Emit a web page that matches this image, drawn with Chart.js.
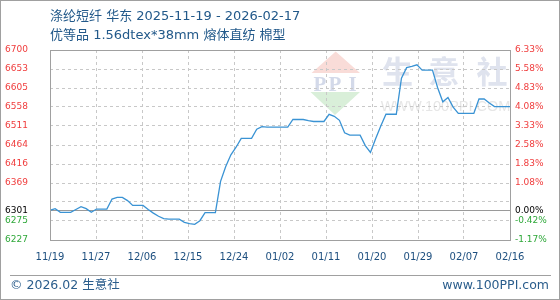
<!DOCTYPE html>
<html>
<head>
<meta charset="utf-8">
<script src="https://cdn.jsdelivr.net/npm/chart.js@4/dist/chart.umd.min.js"></script>
<style>
html,body{margin:0;padding:0;background:#fff;}
#wrap{position:relative;width:560px;height:300px;overflow:hidden;font-family:"DejaVu Sans","Noto Sans CJK SC",sans-serif;background:#fff;}
#c{position:absolute;left:0;top:0;}
.t{position:absolute;left:50px;font-size:13px;color:#22598a;white-space:nowrap;line-height:19px;}
.f{position:absolute;font-size:12.5px;color:#2a5d8c;white-space:nowrap;line-height:16px;top:277px;}
#sep{position:absolute;left:10px;top:275px;width:541px;height:1px;background:#a0a0a0;}
#border{position:absolute;left:0;top:0;width:560px;height:300px;box-sizing:border-box;border:1px solid #a0a0a0;pointer-events:none;}
</style>
</head>
<body>
<div id="wrap">
  <canvas id="c" width="560" height="300"></canvas>
  <div class="t" style="top:5.5px">涤纶短纤 华东 2025-11-19 - 2026-02-17</div>
  <div class="t" style="top:25px">优等品 1.56dtex*38mm 熔体直纺 棉型</div>
  <div id="sep"></div>
  <div class="f" style="left:10px">© 2026.02 生意社</div>
  <div class="f" style="right:11px">www.100PPI.com</div>
  <div id="border"></div>
</div>
<script>
// Daily prices, 2025-11-19 .. 2026-02-16 (元/吨)
const prices = [
  6301, 6305, 6296, 6296, 6296, 6303, 6310, 6305, 6296, 6304,
  6304, 6304, 6329, 6333, 6333, 6325, 6313, 6313, 6313, 6303,
  6294, 6286, 6280, 6279, 6279, 6279, 6271, 6268, 6266, 6275,
  6295, 6295, 6295, 6373, 6410, 6439, 6458, 6480, 6480, 6480,
  6503, 6509, 6508, 6508, 6508, 6508, 6508, 6527, 6527, 6527,
  6524, 6522, 6522, 6522, 6540, 6535, 6525, 6494, 6488, 6488,
  6488, 6462, 6445, 6479, 6511, 6540, 6540, 6540, 6630, 6656,
  6659, 6663, 6650, 6650, 6650, 6606, 6571, 6582, 6558, 6542,
  6542, 6542, 6542, 6578, 6578, 6568, 6559, 6559, 6559, 6559
];
const xTickLabels = ['11/19','11/27','12/06','12/15','12/24','01/02','01/11','01/20','01/29','02/07','02/16'];
const yMin = 6227, yMax = 6700;
const yTickValues = [6227, 6274.3, 6301, 6321.6, 6368.9, 6416.2, 6463.5, 6510.8, 6558.1, 6605.4, 6652.7, 6700];
const leftTickLabels = ['6227','6275','6301','','6369','6416','6464','6511','6558','6605','6653','6700'];
const rightTickLabels = ['-1.17%','-0.42%','0.00%','','1.08%','1.83%','2.58%','3.33%','4.08%','4.83%','5.58%','6.33%'];

const base = prices[0];
const RED = '#f03c3c', GREEN = '#2fa83a', BLACK = '#000000';
function tickColor(c){
  const v = c.tick ? c.tick.value : 0;
  if (Math.abs(v - base) < 0.01) return BLACK;
  return v > base ? RED : GREEN;
}

const watermark = {
  id:'watermark',
  beforeDraw(chart){
    const g = chart.ctx;
    g.save();
    // red triangle
    g.fillStyle = '#f9dcd8';
    g.beginPath(); g.moveTo(311.5,73); g.lineTo(360,73); g.lineTo(335.7,51.5); g.closePath(); g.fill();
    // green triangle
    g.fillStyle = '#d9efd9';
    g.beginPath(); g.moveTo(310.5,92); g.lineTo(360,92); g.lineTo(335,115); g.closePath(); g.fill();
    // PPI letters
    g.fillStyle = '#d3d9e9';
    g.font = 'bold 21px "Liberation Serif"';
    g.textAlign = 'center'; g.textBaseline = 'alphabetic';
    g.fillText('P', 320, 90.5); g.fillText('P', 335, 90.5); g.fillText('I', 352.5, 90.5);
    // 生意社
    g.fillStyle = '#dfe3ee';
    g.font = 'bold 31px "Noto Sans CJK SC"';
    g.textBaseline = 'middle';
    g.fillText('生', 397.5, 71); g.fillText('意', 444, 71); g.fillText('社', 492, 71);
    // url
    g.fillStyle = '#e6e6e6';
    g.font = '14.5px "Liberation Sans"';
    g.fillText('WWW.100PPI.COM', 445.5, 107);
    g.restore();
  }
};

const frame = {
  id:'frame',
  beforeDatasetsDraw(chart){
    const a = chart.chartArea, g = chart.ctx;
    const yb = Math.round(chart.scales.y.getPixelForValue(base)) + 0.5;
    g.save();
    g.strokeStyle = '#9a9a9a'; g.lineWidth = 1;
    g.beginPath(); g.moveTo(a.left, yb); g.lineTo(a.right, yb); g.stroke();
    g.restore();
  },
  afterDatasetsDraw(chart){
    const a = chart.chartArea, g = chart.ctx;
    g.save();
    g.strokeStyle = '#a0a0a0'; g.lineWidth = 1;
    g.strokeRect(Math.round(a.left)+0.5, Math.round(a.top)+0.5, Math.round(a.right-a.left), Math.round(a.bottom-a.top));
    g.restore();
  }
};

function setYTicks(s){ s.ticks = yTickValues.map(v => ({value: v})); }

new Chart(document.getElementById('c'), {
  type:'line',
  data:{
    datasets:[{
      data: prices.map((v,i) => ({x:i, y:v})),
      borderColor:'#3a93d4', borderWidth:1.3, pointRadius:0, tension:0, fill:false
    }]
  },
  options:{
    responsive:false, animation:false, devicePixelRatio:1,
    layout:{padding:{top:50, left:0, right:0, bottom:0}},
    plugins:{legend:{display:false}, tooltip:{enabled:false}, title:{display:false}},
    scales:{
      x:{
        type:'linear', min:0, max:prices.length-1,
        afterBuildTicks: s => { s.ticks = xTickLabels.map((l,k) => ({value: k*(prices.length-1)/(xTickLabels.length-1)})); },
        afterFit: s => { s.height = 60; },
        grid:{color:'#c8c8c8', drawTicks:false, lineWidth:1},
        border:{display:false, dash:[3,3]},
        ticks:{autoSkip:false, maxRotation:0, padding:11, color:'#1d4f7f',
               font:{family:'DejaVu Sans', size:10}, callback:(v,i) => xTickLabels[i]}
      },
      y:{
        position:'left', min:yMin, max:yMax,
        afterBuildTicks: setYTicks,
        afterFit: s => { s.width = 50; },
        grid:{color: c => (c.tick && Math.abs(c.tick.value-base)<0.01) ? 'rgba(0,0,0,0)' : '#c8c8c8', drawTicks:false, lineWidth:1},
        border:{display:false, dash:[3,3]},
        ticks:{autoSkip:false, padding:22, color: tickColor,
               font:{family:'DejaVu Sans', size:9}, callback:(v,i) => leftTickLabels[i]}
      },
      y2:{
        position:'right', min:yMin, max:yMax,
        afterBuildTicks: setYTicks,
        afterFit: s => { s.width = 50; },
        grid:{drawOnChartArea:false, drawTicks:false},
        border:{display:false},
        ticks:{autoSkip:false, padding:5, color: tickColor,
               font:{family:'DejaVu Sans', size:9}, callback:(v,i) => rightTickLabels[i]}
      }
    }
  },
  plugins:[watermark, frame]
});
</script>
</body>
</html>
